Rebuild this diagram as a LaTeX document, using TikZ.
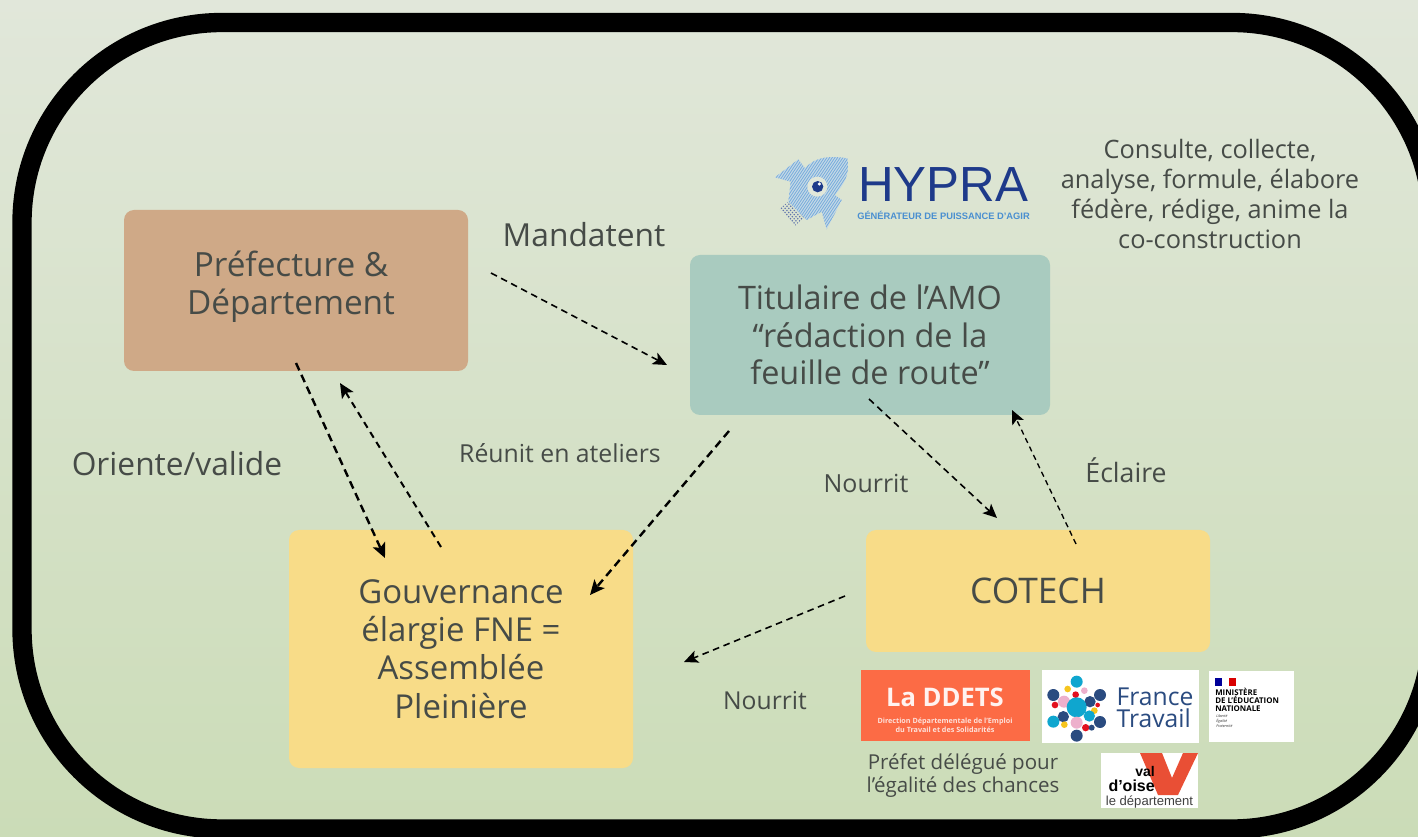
\documentclass[tikz,border=0pt]{standalone}
\usepackage{fontspec}
\setmainfont{Open Sans}
\newfontfamily\condfont{Liberation Sans}
\usetikzlibrary{arrows.meta}
\definecolor{inkc}{HTML}{464B47}
\definecolor{brownb}{HTML}{CFA987}
\definecolor{tealb}{HTML}{A9CBBF}
\definecolor{yellowb}{HTML}{F8DC88}
\definecolor{bgtop}{HTML}{E1E7DA}
\definecolor{bgbot}{HTML}{CBDCB7}
\definecolor{hypnavy}{HTML}{1E3A8A}
\definecolor{hypblue}{HTML}{4A8FD0}
\definecolor{hyplight}{HTML}{C3D8E6}
\definecolor{ddets}{HTML}{FC6B45}
\definecolor{ftnavy}{HTML}{2A4B80}
\definecolor{ftcyan}{HTML}{0FA6CF}
\definecolor{ftpink}{HTML}{EDB0CC}
\definecolor{ftyellow}{HTML}{F6C51E}
\definecolor{ftred}{HTML}{E3101E}
\definecolor{voise}{HTML}{E94F35}
\tikzset{
  x=0.75pt,y=-0.75pt,
  mainbox/.style={rectangle,rounded corners=7.5pt,inner sep=0pt,align=center,text=inkc},
  lab/.style={inner sep=0pt,align=center,text=inkc},
  flow/.style={draw=black,-{Stealth[length=11pt,width=10pt,inset=2.5pt]},line width=1.8pt,dash pattern=on 6pt off 3.75pt},
  flowthin/.style={draw=black,-{Stealth[length=10.5pt,width=9.5pt,inset=2.5pt]},line width=1.2pt,dash pattern=on 5pt off 3.5pt},
  logobox/.style={rectangle,inner sep=0pt,fill=white},
}
\begin{document}
\begin{tikzpicture}
\useasboundingbox (0,0) rectangle (1418,837);
\clip (0,0) rectangle (1418,837);
\shade[top color=bgtop,bottom color=bgbot] (0,0) rectangle (1418,837);
\draw[line width=14.5pt,black,rounded corners=150pt] (22,22.5) rectangle (1432,829);

% main boxes
\node[mainbox,fill=brownb,minimum width=258pt,minimum height=120.75pt] (pref) at (296,290.5) {};
\node[lab,font=\fontsize{25}{28.5}\selectfont] (preft) at (291,287) {Préfecture \&\\Département};
\node[mainbox,fill=tealb,minimum width=270pt,minimum height=120pt,font=\fontsize{24.3}{28}\selectfont] (amo) at (870,335) {Titulaire de l’AMO\\“rédaction de la\\feuille de route”};
\node[mainbox,fill=yellowb,minimum width=258pt,minimum height=178.5pt,font=\fontsize{24.7}{28.7}\selectfont] (gouv) at (461,649) {Gouvernance\\élargie FNE =\\Assemblée\\Pleinière};
\node[mainbox,fill=yellowb,minimum width=258pt,minimum height=91.5pt,font=\fontsize{26.5}{30}\selectfont] (cotech) at (1038,591) {COTECH};

% labels
\node[lab,font=\fontsize{23.8}{27}\selectfont] (mand) at (584,235) {Mandatent};
\node[lab,font=\fontsize{23.8}{27}\selectfont] (orient) at (177,464) {Oriente/valide};
\node[lab,font=\fontsize{18.6}{21}\selectfont] (reunit) at (560,453) {Réunit en ateliers};
\node[lab,font=\fontsize{18.7}{22}\selectfont] (nour1) at (866,483) {Nourrit};
\node[lab,font=\fontsize{20}{22}\selectfont] (ecl) at (1126,470) {Éclaire};
\node[lab,font=\fontsize{18.5}{22}\selectfont] (nour2) at (765,701) {Nourrit};
\node[lab,font=\fontsize{19}{22.4}\selectfont] (verbs) at (1210,194) {Consulte, collecte,\\analyse, formule, élabore\\fédère, rédige, anime la\\co-construction};
\node[lab,font=\fontsize{15.4}{17.3}\selectfont] (prefet) at (963,776) {Préfet délégué pour\\l’égalité des chances};

% connector ends
\coordinate (a1) at (491,273); \coordinate (a2) at (667,365);
\coordinate (b1) at (296,363); \coordinate (b2) at (385,558);
\coordinate (c1) at (441,547); \coordinate (c2) at (340,383);
\coordinate (d1) at (729,431); \coordinate (d2) at (590,595);
\coordinate (e1) at (869,399); \coordinate (e2) at (997,518);
\coordinate (f1) at (1076,544); \coordinate (f2) at (1012,410);
\coordinate (g1) at (845,596); \coordinate (g2) at (684,662);
\draw[flowthin] (a1) -- (a2);
\draw[flow] (b1) -- (b2);
\draw[flow,line width=1.5pt,dash pattern=on 5pt off 3.75pt] (c1) -- (c2);
\draw[flow] (d1) -- (d2);
\draw[flowthin] (e1) -- (e2);
\draw[flowthin,line width=1pt,dash pattern=on 4pt off 3pt] (f1) -- (f2);
\draw[flowthin] (g1) -- (g2);

% HYPRA logo
\begin{scope}[shift={(760,140)},x=0.25pt,y=-0.25pt]
  \begin{scope}
    \clip (58,207) -- (85,185) -- (135,230) -- (105,258) -- cycle;
    \foreach \k in {0,11,...,330}{
      \draw[hypnavy!70,line width=.9pt,dash pattern=on .9pt off 1.2pt] (\k-120,300) -- (\k+60,100);
    }
  \end{scope}
  \begin{scope}
    \clip (262,55) .. controls (200,45) and (160,55) .. (135,85) -- (115,58) -- (45,112) -- (92,125) -- (85,185) -- (140,240) -- (185,215) -- (200,268) -- (245,180) -- (225,165) .. controls (255,130) and (270,100) .. (262,55) -- cycle;
    \fill[hyplight] (0,0) rectangle (300,300);
    \foreach \k in {0,8,...,420}{
      \draw[hypblue!75,line width=.55pt] (\k-100,300) -- (\k+100,0);
    }
  \end{scope}
  \fill[bgtop] (172,140) circle (30);
  \fill[hypnavy] (173,140) circle (17);
  \fill[white] (178,132) circle (5);
\end{scope}
\node[inner sep=0pt,text=hypnavy,font=\condfont\fontsize{37}{37}\selectfont] (hypra) at (943,185) {HYPRA};
\node[inner sep=0pt,text=hypblue,font=\condfont\bfseries\fontsize{7}{8}\selectfont] (hypsub) at (943.5,215.5) {GÉNÉRATEUR DE PUISSANCE D’AGIR};

% DDETS logo
\node[logobox,fill=ddets,minimum width=126.75pt,minimum height=53.25pt] (ddetsbox) at (945.5,705.5) {};
\node[inner sep=0pt,text=white!92!ddets,font=\bfseries\fontsize{19.2}{20}\selectfont] (ddetst) at (945,697) {La DDETS};
\node[inner sep=0pt,text=white!80!ddets,align=center,font=\bfseries\fontsize{5.4}{7}\selectfont] (ddetss) at (945,725) {Direction Départementale de l’Emploi\\du Travail et des Solidarités};

% France Travail logo
\node[logobox,minimum width=117.75pt,minimum height=54.75pt] (ftbox) at (1120.5,706.5) {};
\begin{scope}[shift={(850,660)},x=0.25pt,y=-0.25pt]
  \foreach \px/\py/\pr/\pc in {680/65/18/ftcyan,653/87/10/ftyellow,703/92/10/ftpink,610/105/18/ftnavy,750/105/18/ftnavy,677/104/10/ftred,642/125/18/ftpink,720/125/17/ftnavy,615/135/10/ftred,743/135/7/ftred,680/142/30/ftcyan,733/152/10/ftyellow,640/170/17/ftnavy,718/168/17/ftcyan,610/185/18/ftcyan,750/186/18/ftnavy,680/188/18/ftpink,643/194/10/ftyellow,707/203/11/ftred,725/203/9/ftnavy,680/227/18/ftnavy}
    \fill[\pc] (\px,\py) circle (\pr);
\end{scope}
\node[inner sep=0pt,text=ftnavy,align=left,font=\fontsize{18.5}{16.5}\selectfont] (ftt) at (1155,708) {France\\Travail};

% Ministere logo
\node[logobox,minimum width=63.75pt,minimum height=53.25pt] (minbox) at (1251.5,706.5) {};
\fill[blue!60!black] (1215,678) rectangle (1222,686);
\fill[red!85!black] (1229,678) rectangle (1236,686);
\node[inner sep=0pt,anchor=north west,align=left,text=black,font=\bfseries\fontsize{5.9}{5.9}\selectfont] (mint) at (1215,688) {MINISTÈRE\\DE L’ÉDUCATION\\NATIONALE};
\node[inner sep=0pt,anchor=north west,align=left,text=black!80,font=\itshape\fontsize{2.8}{4}\selectfont] (mins) at (1216,714) {Liberté\\Égalité\\Fraternité};

% Val d'Oise logo
\node[logobox,minimum width=72.75pt,minimum height=41.25pt] (valbox) at (1149.5,780.5) {};
\fill[voise] (1140,753) -- (1162,753) -- (1172,778) -- (1183,753) -- (1198,753) -- (1178,795) -- (1158,795) -- cycle;
\node[inner sep=0pt,anchor=east,text=black,font=\condfont\bfseries\fontsize{10.5}{11}\selectfont] (valt) at (1155,771) {val};
\node[inner sep=0pt,anchor=east,text=black,font=\condfont\bfseries\fontsize{12}{12}\selectfont] (oiset) at (1155,785.5) {d’oise};
\node[inner sep=0pt,text=black!75,font=\condfont\fontsize{9.8}{10}\selectfont] (dept) at (1149.5,802) {le département};
\end{tikzpicture}
\end{document}
